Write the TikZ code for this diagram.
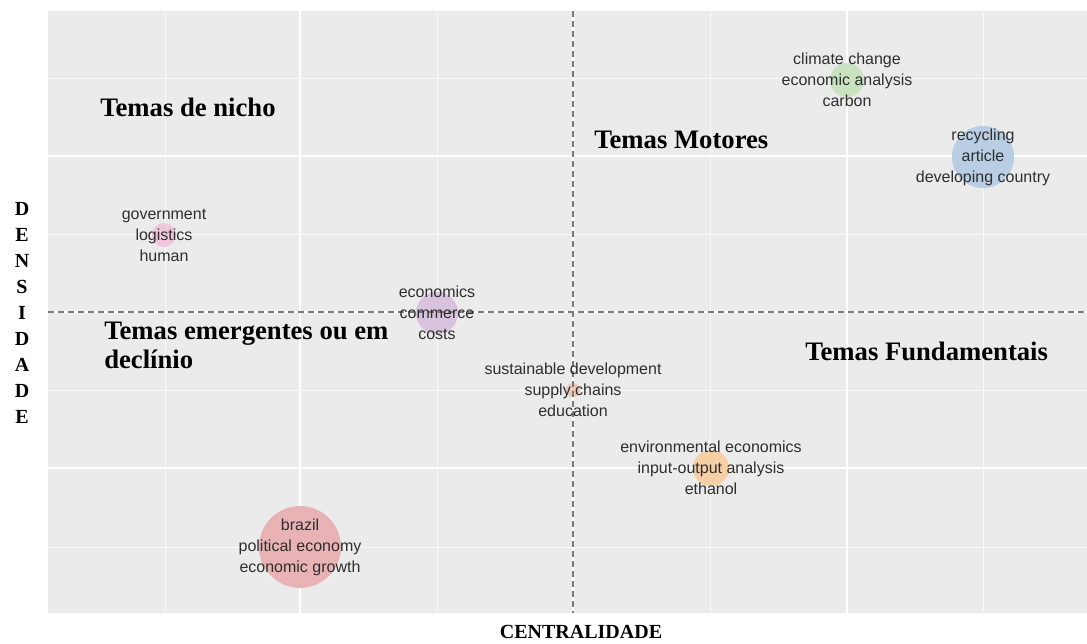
\documentclass[tikz,border=0pt]{standalone}
\usepackage{fontspec}
\setmainfont{Liberation Serif}
\newfontfamily\termfont{Liberation Sans}
\usetikzlibrary{positioning}

\definecolor{panelgray}{HTML}{EBEBEB}
\definecolor{termgray}{HTML}{2E2E2E}
\definecolor{dashgray}{HTML}{7A7A7A}
\definecolor{pinkbub}{HTML}{F0C6DA}
\definecolor{greenbub}{HTML}{C9E2C0}
\definecolor{bluebub}{HTML}{B9CEE4}
\definecolor{purplebub}{HTML}{D9C2DD}
\definecolor{peachbub}{HTML}{EDC9B6}
\definecolor{orangebub}{HTML}{F6CFA4}
\definecolor{redbub}{HTML}{E9B3B5}

\begin{document}
\begin{tikzpicture}[x=0.75pt,y=-0.75pt,
  term/.style={align=center,inner sep=0pt,text=termgray,font=\termfont\fontsize{12}{15.75}\selectfont},
  quadrant/.style={align=left,inner sep=0pt,anchor=base west,font=\bfseries\fontsize{20}{21.75}\selectfont},
  axislabel/.style={align=center,inner sep=0pt,font=\bfseries\fontsize{15}{19.5}\selectfont},
  majorline/.style={white,line width=1.3pt},
  minorline/.style={white!70!panelgray,line width=0.6pt},
  quadline/.style={dashgray,line width=0.9pt,dash pattern=on 4.5pt off 3pt}]

\useasboundingbox (0,0) rectangle (1087,643);
\fill[panelgray] (48,11) rectangle (1087,613);

% grid
\draw[minorline] (48,78) -- (1087,78);
\draw[minorline] (48,234) -- (1087,234);
\draw[minorline] (48,390) -- (1087,390);
\draw[minorline] (48,547) -- (1087,547);
\draw[minorline] (165,11) -- (165,613);
\draw[minorline] (437,11) -- (437,613);
\draw[minorline] (710,11) -- (710,613);
\draw[minorline] (983,11) -- (983,613);
\draw[majorline] (48,156) -- (1087,156);
\draw[majorline] (48,312) -- (1087,312);
\draw[majorline] (48,468) -- (1087,468);
\draw[majorline] (300,11) -- (300,613);
\draw[majorline] (573,11) -- (573,613);
\draw[majorline] (847,11) -- (847,613);

% bubbles
\fill[pinkbub] (164,235) circle (12);
\fill[greenbub] (847,80) circle (17);
\fill[bluebub] (983,157) circle (31);
\fill[purplebub] (437,313) circle (21);
\fill[peachbub] (573,390) circle (7);
\fill[orangebub] (711,468) circle (18);
\fill[redbub] (300,547) circle (41);

% quadrant lines
\draw[quadline] (48,312) -- (1087,312);
\draw[quadline] (573,11) -- (573,613);

% clusters
\node[term] (gov) at (164,235) {government\\logistics\\human};
\node[term] (clim) at (847,80) {climate change\\economic analysis\\carbon};
\node[term] (recy) at (983,157) {recycling\\article\\developing country};
\node[term] (econ) at (437,313) {economics\\commerce\\costs};
\node[term] (sust) at (573,390) {sustainable development\\supply chains\\education};
\node[term] (envi) at (711,468) {environmental economics\\input-output analysis\\ethanol};
\node[term] (braz) at (300,547) {brazil\\political economy\\economic growth};

% quadrant titles
\node[quadrant] (nicho) at (100,116) {Temas de nicho};
\node[quadrant] (motor) at (594,148) {Temas Motores};
\node[quadrant] (emerg) at (104,368) {Temas emergentes ou em\\declínio};
\node[quadrant] (fund) at (805,360) {Temas Fundamentais};

% axes
\node[axislabel] (dens) at (22,313) {D\\E\\N\\S\\I\\D\\A\\D\\E};
\node[axislabel] (cent) at (581,632) {CENTRALIDADE};

\end{tikzpicture}
\end{document}
